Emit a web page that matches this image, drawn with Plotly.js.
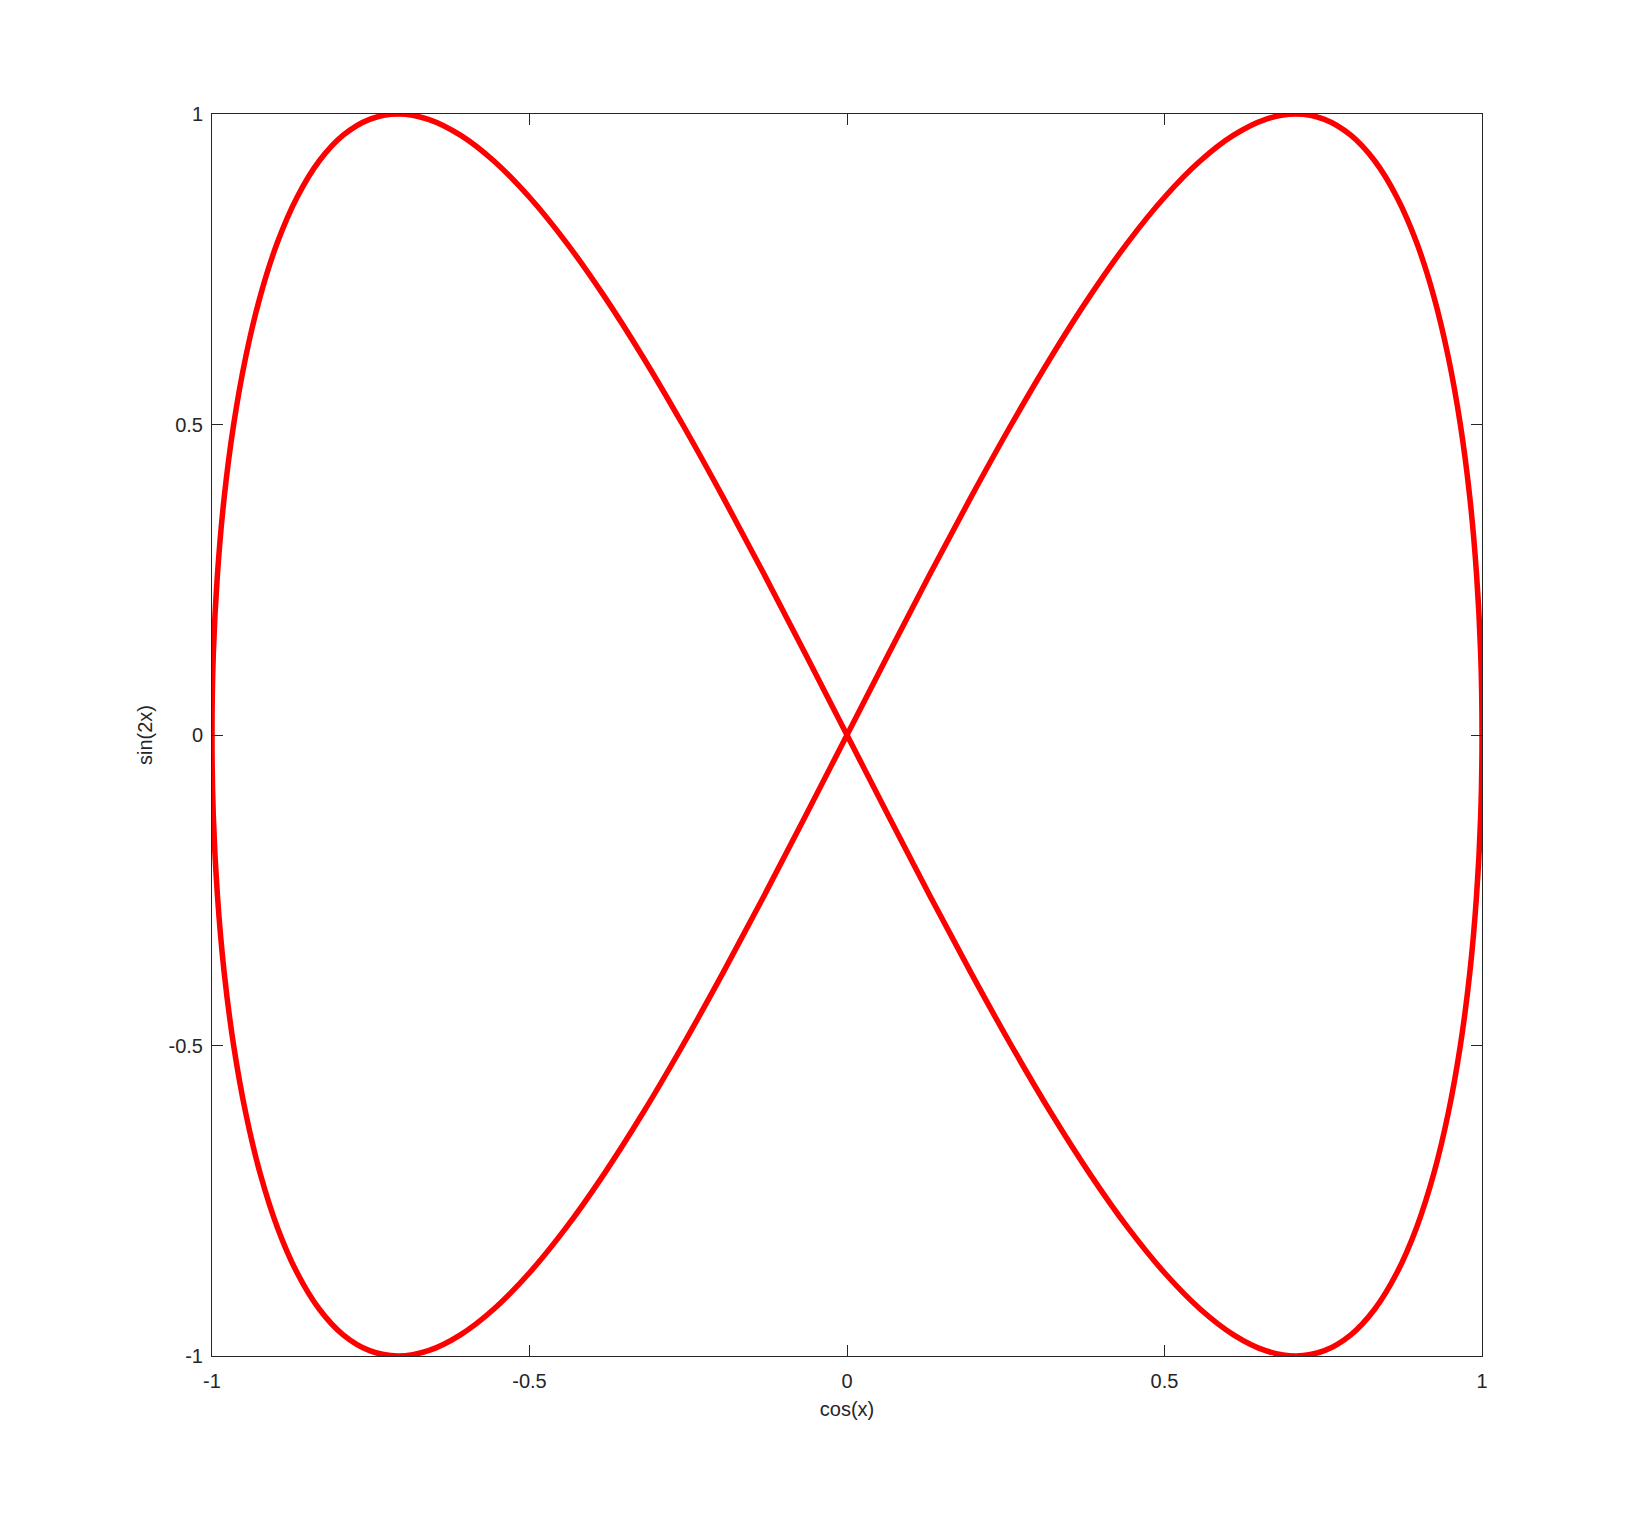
<!DOCTYPE html>
<html>
<head>
<meta charset="utf-8">
<script src="https://cdn.plot.ly/plotly-3.0.1.min.js"></script>
<style>
  html, body { margin: 0; padding: 0; background: #ffffff; }
  #chart { width: 1638px; height: 1524px; }
</style>
</head>
<body>
<div id="chart"></div>
<script>
// Points (x = cos(x), y = sin(2x)), traced in order
const cosX = [
  1, 0.9979, 0.9914, 0.9808, 0.9659, 0.9469, 0.9239, 0.8969, 0.8660, 0.8315, 0.7934, 0.7518,
  0.7071, 0.6593, 0.6088, 0.5556, 0.5, 0.4423, 0.3827, 0.3214, 0.2588, 0.1951, 0.1305, 0.0654,
  0, -0.0654, -0.1305, -0.1951, -0.2588, -0.3214, -0.3827, -0.4423, -0.5, -0.5556, -0.6088, -0.6593,
  -0.7071, -0.7518, -0.7934, -0.8315, -0.8660, -0.8969, -0.9239, -0.9469, -0.9659, -0.9808, -0.9914, -0.9979,
  -1, -0.9979, -0.9914, -0.9808, -0.9659, -0.9469, -0.9239, -0.8969, -0.8660, -0.8315, -0.7934, -0.7518,
  -0.7071, -0.6593, -0.6088, -0.5556, -0.5, -0.4423, -0.3827, -0.3214, -0.2588, -0.1951, -0.1305, -0.0654,
  0, 0.0654, 0.1305, 0.1951, 0.2588, 0.3214, 0.3827, 0.4423, 0.5, 0.5556, 0.6088, 0.6593,
  0.7071, 0.7518, 0.7934, 0.8315, 0.8660, 0.8969, 0.9239, 0.9469, 0.9659, 0.9808, 0.9914, 0.9979,
  1
];
const sin2X = [
  0, 0.1305, 0.2588, 0.3827, 0.5, 0.6088, 0.7071, 0.7934, 0.8660, 0.9239, 0.9659, 0.9914,
  1, 0.9914, 0.9659, 0.9239, 0.8660, 0.7934, 0.7071, 0.6088, 0.5, 0.3827, 0.2588, 0.1305,
  0, -0.1305, -0.2588, -0.3827, -0.5, -0.6088, -0.7071, -0.7934, -0.8660, -0.9239, -0.9659, -0.9914,
  -1, -0.9914, -0.9659, -0.9239, -0.8660, -0.7934, -0.7071, -0.6088, -0.5, -0.3827, -0.2588, -0.1305,
  0, 0.1305, 0.2588, 0.3827, 0.5, 0.6088, 0.7071, 0.7934, 0.8660, 0.9239, 0.9659, 0.9914,
  1, 0.9914, 0.9659, 0.9239, 0.8660, 0.7934, 0.7071, 0.6088, 0.5, 0.3827, 0.2588, 0.1305,
  0, -0.1305, -0.2588, -0.3827, -0.5, -0.6088, -0.7071, -0.7934, -0.8660, -0.9239, -0.9659, -0.9914,
  -1, -0.9914, -0.9659, -0.9239, -0.8660, -0.7934, -0.7071, -0.6088, -0.5, -0.3827, -0.2588, -0.1305,
  0
];
const xTicks = [-1, -0.5, 0, 0.5, 1];
const xTickLabels = ['-1', '-0.5', '0', '0.5', '1'];
const yTicks = [-1, -0.5, 0, 0.5, 1];
const yTickLabels = ['-1', '-0.5', '0', '0.5', '1'];
const xLabel = 'cos(x)';
const yLabel = 'sin(2x)';

const textColor = '#262626';
const fontFamily = '"Liberation Sans", Arial, Helvetica, sans-serif';

const trace = {
  x: cosX,
  y: sin2X,
  type: 'scatter',
  mode: 'lines',
  line: { color: '#ff0000', width: 5.5, shape: 'spline', smoothing: 1 },
  hoverinfo: 'none',
  showlegend: false,
  cliponaxis: false
};

const axisCommon = {
  showgrid: false,
  zeroline: false,
  showline: true,
  mirror: 'ticks',
  linecolor: textColor,
  linewidth: 1,
  ticks: 'inside',
  ticklen: 11,
  tickwidth: 1,
  tickcolor: textColor,
  tickfont: { family: fontFamily, size: 20, color: textColor },
  fixedrange: true
};

const layout = {
  width: 1638,
  height: 1524,
  paper_bgcolor: '#ffffff',
  plot_bgcolor: '#ffffff',
  margin: { l: 212, r: 156, t: 114, b: 168, pad: 0 },
  font: { family: fontFamily, size: 20, color: textColor },
  xaxis: Object.assign({}, axisCommon, {
    range: [-1, 1],
    tickvals: xTicks,
    ticktext: xTickLabels,
    ticklabelstandoff: 7,
    title: { text: xLabel, font: { family: fontFamily, size: 20, color: textColor }, standoff: 10 }
  }),
  yaxis: Object.assign({}, axisCommon, {
    range: [-1, 1],
    tickvals: yTicks,
    ticktext: yTickLabels,
    ticklabelstandoff: 4,
    title: { text: yLabel, font: { family: fontFamily, size: 20, color: textColor }, standoff: 10 }
  })
};

Plotly.newPlot('chart', [trace], layout, { displayModeBar: false, staticPlot: true });
</script>
</body>
</html>
